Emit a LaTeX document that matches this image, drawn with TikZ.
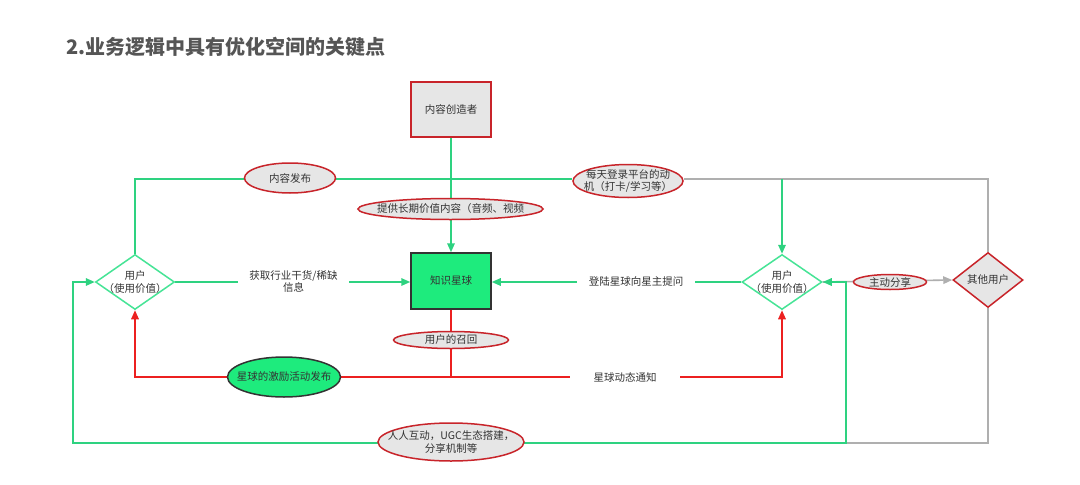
\documentclass[tikz,border=0pt]{standalone}
\usepackage{fontspec}
\setmainfont{Noto Sans CJK SC}
\usetikzlibrary{shapes.geometric,arrows.meta}
\definecolor{gline}{RGB}{46,210,128}
\definecolor{dgreen}{RGB}{70,228,150}
\definecolor{sgreen}{RGB}{30,235,125}
\definecolor{rline}{RGB}{236,32,32}
\definecolor{ered}{RGB}{200,36,42}
\definecolor{gfill}{RGB}{230,230,230}
\definecolor{grline}{RGB}{175,175,175}
\definecolor{txt}{RGB}{51,51,51}
\definecolor{ttl}{RGB}{85,85,85}
\pgfdeclarelayer{bg}
\pgfdeclarelayer{paper}
\pgfsetlayers{paper,bg,main}
\tikzset{
  lbl/.style={font=\fontsize{10.5}{12.5}\selectfont, text=txt, align=center},
  tip/.style={-{Triangle[length=9pt,width=7.5pt]}},
  gconn/.style={draw=gline, line width=1.6pt},
  rconn/.style={draw=rline, line width=1.6pt},
  grconn/.style={draw=grline, line width=1.6pt},
  bubble/.style={ellipse, draw=ered, fill=gfill, line width=1.5pt, inner sep=0pt},
  udia/.style={diamond, draw=dgreen, fill=white, line width=1.5pt, inner sep=0pt},
  odia/.style={diamond, draw=ered, fill=gfill, line width=1.5pt, inner sep=0pt},
  cut/.style={lbl, fill=white, inner ysep=2pt},
}
\begin{document}
\begin{tikzpicture}[x=1pt,y=-1pt]
\begin{pgfonlayer}{paper}
\fill[white] (0,0) rectangle (1080,485);
\end{pgfonlayer}
\useasboundingbox (0,0) rectangle (1080,485);
% title
\node[anchor=west, font=\fontsize{20}{24}\selectfont\bfseries, text=ttl, inner sep=0pt] (title) at (66,47) {2.业务逻辑中具有优化空间的关键点};
% main nodes
\node[draw=ered, fill=gfill, line width=1.5pt, minimum width=80pt, minimum height=55pt, lbl] (creator) at (451,109.5) {内容创造者};
\node[draw=txt, fill=sgreen, line width=1.5pt, minimum width=80pt, minimum height=56pt, lbl] (star) at (451,281) {知识星球};
\node[udia, minimum width=79pt, minimum height=55pt, label={[lbl]center:用户\\（使用价值）}] (uL) at (135,282) {};
\node[udia, minimum width=80pt, minimum height=55pt, label={[lbl]center:用户\\（使用价值）}] (uR) at (782,282) {};
\node[odia, minimum width=70pt, minimum height=55pt, label={[lbl]center:其他用户}] (other) at (988,280) {};
% bubbles
\node[bubble, minimum width=91pt, minimum height=30pt, label={[lbl]center:内容发布}] (pub) at (290,178) {};
\node[bubble, minimum width=110pt, minimum height=33pt, label={[lbl]center:每天登录平台的动\\机（打卡/学习等）}] (day) at (628,181) {};
\node[bubble, minimum width=185pt, minimum height=21pt, label={[lbl]center:提供长期价值内容（音频、视频}] (prov) at (450.5,209) {};
\node[bubble, minimum width=115pt, minimum height=17pt, label={[lbl]center:用户的召回}] (recall) at (451,340) {};
\node[bubble, minimum width=73pt, minimum height=15pt, label={[lbl]center:主动分享}] (share) at (890,282) {};
\node[ellipse, draw=txt, fill=sgreen, line width=1.5pt, inner sep=0pt, minimum width=113pt, minimum height=40pt, label={[lbl]center:星球的激励活动发布}] (promo) at (284,377) {};
\node[bubble, minimum width=146pt, minimum height=38pt, label={[lbl]center:人人互动，UGC生态搭建，\\分享机制等}] (ugc) at (451,442) {};
% labels on lines
\node[cut, minimum width=111pt] (get) at (293.5,281.5) {获取行业干货/稀缺\\信息};
\node[cut, minimum width=118pt] (ask) at (636,282) {登陆星球向星主提问};
\node[cut, minimum width=110pt] (notify) at (625,377) {星球动态通知};
% helper coordinates
\coordinate (tl) at (135,179);
\coordinate (tr) at (782,179);
\coordinate (tg) at (988,179);
\coordinate (rl) at (135,377);
\coordinate (rr) at (782,377);
\coordinate (bl) at (73,443);
\coordinate (br) at (846,443);
\begin{pgfonlayer}{bg}
  % top green path
  \draw[gconn] (uL.north) -- (tl) -- (day.west |- tl);
  % gray from other users
  \draw[grconn] (other.north) -- (tg) -- (day.east |- tg);
  \draw[grconn, tip] (uR.east) -- (other.west);
  \draw[grconn] (other.south) |- (br);
  % green arrow down to right user
  \draw[gconn, tip] (tr) -- (uR.north);
  % creator to star
  \draw[gconn, tip] (creator.south) -- (star.north);
  % users to star
  \draw[gconn, tip] (uL.east) -- (uL.east -| star.west);
  \draw[gconn, tip] (uR.west) -- (uR.west -| star.east);
  % red
  \draw[rconn] (star.south) -- (star.south |- rl);
  \draw[rconn, {Triangle[length=9pt,width=7.5pt]}-{Triangle[length=9pt,width=7.5pt]}] (uL.south) -- (rl) -- (rr) -- (uR.south);
  % bottom green loop
  \draw[gconn, {Triangle[length=9pt,width=7.5pt]}-{Triangle[length=9pt,width=7.5pt]}] (uL.west) -- (bl |- uL.west) -- (bl) -- (br) -- (br |- uR.east) -- (uR.east);
\end{pgfonlayer}
\end{tikzpicture}
\end{document}
